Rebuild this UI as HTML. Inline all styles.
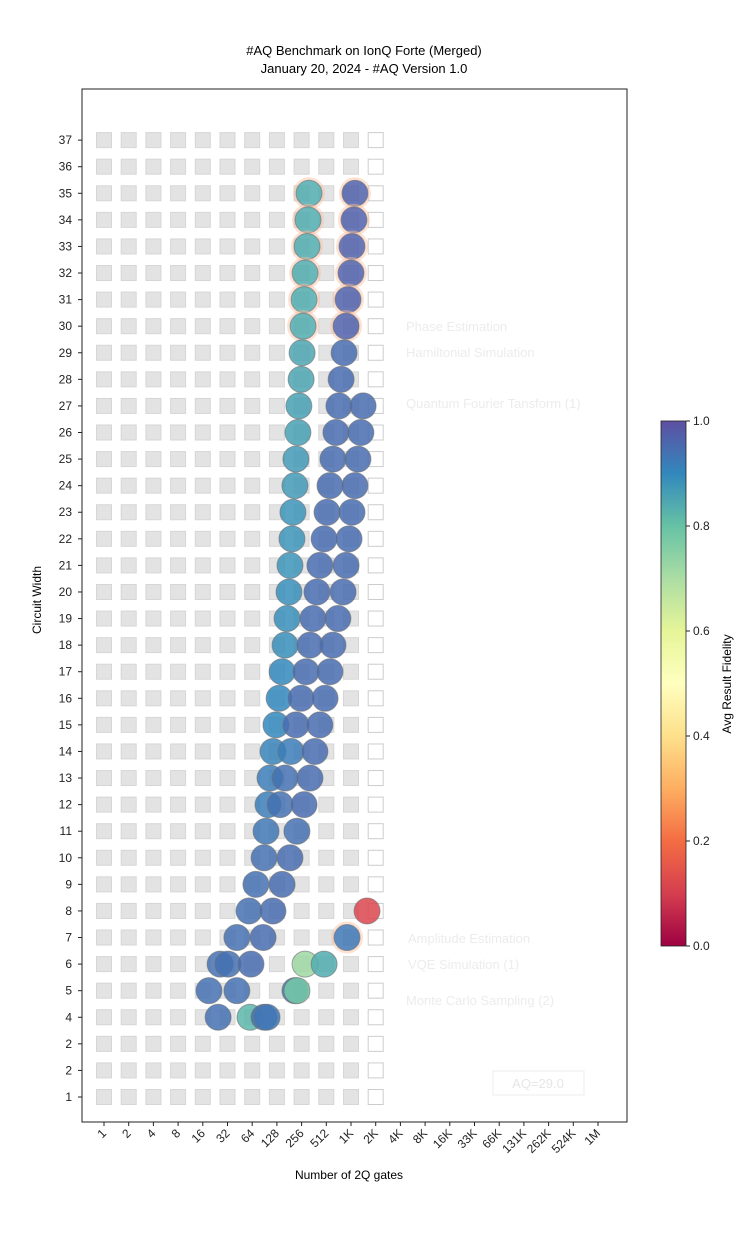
<!DOCTYPE html>
<html><head><meta charset="utf-8"><style>
body{margin:0;background:#fff;font-family:"Liberation Sans",sans-serif}
</style></head><body>
<svg id="chart" width="741" height="1242" xmlns="http://www.w3.org/2000/svg" font-family="Liberation Sans, sans-serif">
<defs>
<linearGradient id="cmap" x1="0" y1="1" x2="0" y2="0">
<stop offset="0" stop-color="#9e0142"/><stop offset="0.1" stop-color="#d53e4f"/><stop offset="0.2" stop-color="#f46d43"/><stop offset="0.3" stop-color="#fdae61"/><stop offset="0.4" stop-color="#fee08b"/><stop offset="0.5" stop-color="#ffffbf"/><stop offset="0.6" stop-color="#e6f598"/><stop offset="0.7" stop-color="#abdda4"/><stop offset="0.8" stop-color="#66c2a5"/><stop offset="0.9" stop-color="#3288bd"/><stop offset="1" stop-color="#5e4fa2"/>
</linearGradient>
</defs>
<text x="364" y="55" font-size="13" text-anchor="middle">#AQ Benchmark on IonQ Forte (Merged)</text>
<text x="364" y="73" font-size="13" text-anchor="middle">January 20, 2024 - #AQ Version 1.0</text>
<rect x="82" y="89" width="545" height="1033" fill="#fff" stroke="#222" stroke-width="1"/>
<g id="squares"></g>
<g id="legend" fill="#ececec" font-size="13">
<text x="406" y="331">Phase Estimation</text>
<text x="406" y="357">Hamiltonial Simulation</text>
<text x="406" y="408">Quantum Fourier Tansform (1)</text>
<text x="408" y="943">Amplitude Estimation</text>
<text x="408" y="969">VQE Simulation (1)</text>
<text x="406" y="1005">Monte Carlo Sampling (2)</text>
</g>
<rect x="493" y="1071" width="91" height="24" fill="none" stroke="#eee"/>
<text x="538" y="1088" font-size="13" fill="#e6e6e6" text-anchor="middle">AQ=29.0</text>
<g id="points"></g>
<g id="axes" font-size="12" fill="#222"></g>
<text transform="translate(41,600) rotate(-90)" font-size="12" text-anchor="middle">Circuit Width</text>
<text x="349" y="1179" font-size="12" text-anchor="middle">Number of 2Q gates</text>
<rect x="661" y="421" width="25" height="525" fill="url(#cmap)" stroke="#222" stroke-width="0.8"/>
<g id="cbar" font-size="12" fill="#222"></g>
<text transform="translate(731,684) rotate(-90)" font-size="12" text-anchor="middle">Avg Result Fidelity</text>
</svg>
<script>
const yLabels=["1","2","2","4","5","6","7","8","9","10","11","12","13","14","15","16","17","18","19","20","21","22","23","24","25","26","27","28","29","30","31","32","33","34","35","36","37"];
const xLabels=["1","2","4","8","16","32","64","128","256","512","1K","2K","4K","8K","16K","33K","66K","131K","262K","524K","1M"];
const cbTicks=[0,0.2,0.4,0.6,0.8,1.0];
const pointWidths=[35,34,33,32,31,30,29,28,27,26,25,24,23,22,21,20,19,18,17,16,15,14,13,12,11,10,9,8,7,6,6,5,4,
35,34,33,32,31,30,29,28,27,26,25,24,23,22,21,20,19,18,17,16,15,14,13,12,11,10,9,8,7,6,
27,26,25,24,23,22,21,20,19,18,17,16,15,14,13,12,
8,7,6,6,5,5,4,4,4,5];
const pointDepthLog2=[8.30,8.26,8.22,8.14,8.10,8.06,8.02,7.98,7.89,7.85,7.77,7.73,7.65,7.61,7.53,7.49,7.41,7.33,7.21,7.09,6.96,6.84,6.72,6.64,6.56,6.48,6.15,5.87,5.38,4.70,5.02,4.25,4.62,
10.16,10.12,10.04,10.0,9.88,9.80,9.72,9.60,9.51,9.39,9.27,9.15,9.03,8.91,8.74,8.62,8.46,8.34,8.18,7.98,7.77,7.57,7.33,7.13,7.81,7.53,7.21,6.84,6.44,5.95,
10.49,10.40,10.28,10.16,10.04,9.92,9.80,9.68,9.47,9.27,9.15,8.95,8.74,8.54,8.34,8.10,
10.65,9.84,8.14,8.91,7.73,7.81,5.91,6.48,6.60,5.38];
const pointFidelity=[0.84,0.84,0.84,0.84,0.84,0.84,0.85,0.85,0.86,0.86,0.87,0.87,0.88,0.88,0.88,0.89,0.89,0.89,0.9,0.9,0.9,0.91,0.92,0.92,0.93,0.94,0.94,0.94,0.94,0.94,0.94,0.94,0.94,
0.97,0.97,0.97,0.97,0.97,0.97,0.95,0.95,0.95,0.95,0.95,0.95,0.95,0.95,0.95,0.95,0.95,0.95,0.95,0.95,0.95,0.92,0.94,0.94,0.94,0.95,0.95,0.95,0.95,0.95,
0.95,0.95,0.95,0.95,0.95,0.95,0.95,0.95,0.95,0.95,0.95,0.95,0.95,0.95,0.95,0.95,
0.12,0.93,0.72,0.84,0.93,0.78,0.82,0.94,0.93,0.94];
const NS="http://www.w3.org/2000/svg";
const yOf=i=>1097-i*26.58;
const yW=w=>yOf(w-1);
const xL=l=>104+l*24.7;
const stops=[[0,[158,1,66]],[0.1,[213,62,79]],[0.2,[244,109,67]],[0.3,[253,174,97]],[0.4,[254,224,139]],[0.5,[255,255,191]],[0.6,[230,245,152]],[0.7,[171,221,164]],[0.8,[102,194,165]],[0.9,[50,136,189]],[1,[94,79,162]]];
function cmap(v){for(let i=1;i<stops.length;i++){if(v<=stops[i][0]){const a=stops[i-1],b=stops[i],t=(v-a[0])/(b[0]-a[0]);return "rgb("+a[1].map((c,k)=>Math.round(c+(b[1][k]-c)*t)).join(",")+")";}}return "rgb(94,79,162)";}
function mk(tag,attrs,parent){const e=document.createElementNS(NS,tag);for(const k in attrs)e.setAttribute(k,attrs[k]);parent.appendChild(e);return e;}
const sq=document.getElementById('squares');
for(let i=0;i<yLabels.length;i++){for(let c=0;c<12;c++){
 const r=mk('rect',{x:xL(c)-7.5,y:yOf(i)-7.5,width:15,height:15,fill:c==11?'#fff':'#e3e3e3',stroke:c==11?'#ccc':'#d6d6d6','stroke-width':1},sq);
 
 
}}
const pg=document.getElementById('points');
for(let i=0;i<pointWidths.length;i++){
 const cx=xL(pointDepthLog2[i]),cy=yW(pointWidths[i]);
 const big=i<6||(i>=33&&i<39)||i==80;
 if(big){const h=mk('circle',{cx:cx,cy:cy,r:14.5,fill:'none',stroke:'rgba(250,190,160,0.45)','stroke-width':3},pg);
 
 }
 const c=mk('circle',{cx:cx,cy:cy,r:13,fill:cmap(pointFidelity[i]),'fill-opacity':0.85,stroke:'rgba(110,110,110,0.6)','stroke-width':1},pg);
 
 
}
const ax=document.getElementById('axes');
yLabels.forEach((t,i)=>{
 mk('line',{x1:78,x2:82,y1:yOf(i),y2:yOf(i),stroke:'#222'},ax);
 const e=mk('text',{x:72,y:yOf(i)+4,'text-anchor':'end'},ax);e.textContent=t;
 
 
});
xLabels.forEach((t,i)=>{
 const x=xL(i);
 mk('line',{x1:x,x2:x,y1:1122,y2:1126,stroke:'#222'},ax);
 const e=mk('text',{x:x+3,y:1134,'text-anchor':'end',transform:'rotate(-45 '+(x+3)+' 1134)'},ax);e.textContent=t;
 
 
});
const cb=document.getElementById('cbar');
cbTicks.forEach(v=>{
 const y=946-v*525;
 mk('line',{x1:686,x2:690,y1:y,y2:y,stroke:'#222'},cb);
 const e=mk('text',{x:693,y:y+4},cb);e.textContent=v.toFixed(1);
 
 
});
</script>
</body></html>
